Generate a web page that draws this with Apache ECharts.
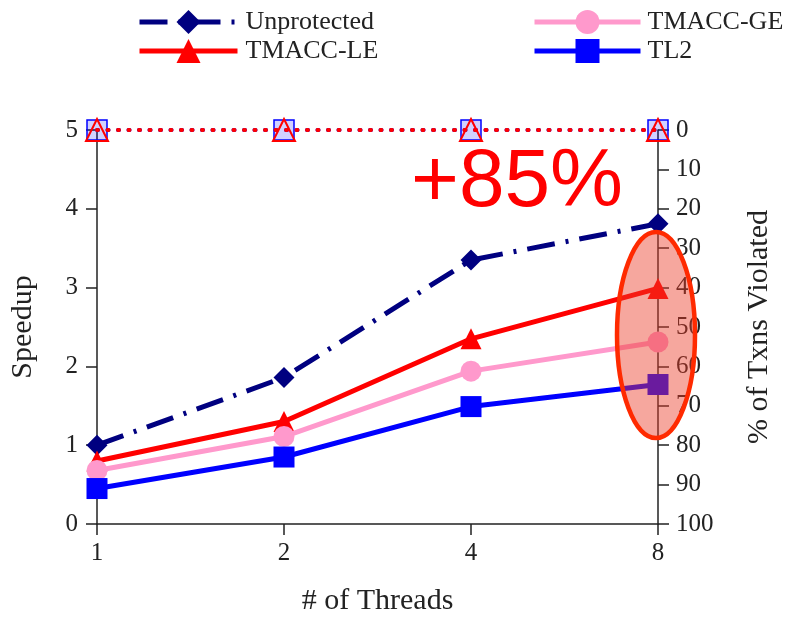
<!DOCTYPE html>
<html>
<head>
<meta charset="utf-8">
<script src="https://cdn.jsdelivr.net/npm/echarts@6/dist/echarts.min.js"></script>
<style>html,body{margin:0;padding:0;background:#fff}#c{width:790px;height:621px}</style>
</head>
<body>
<div id="c"></div>
<script>
const threads = ['1', '2', '4', '8'];
const unprotected = [1.00, 1.86, 3.35, 3.81];
const tmaccLE = [0.80, 1.30, 2.35, 2.99];
const tmaccGE = [0.68, 1.11, 1.94, 2.31];
const tl2 = [0.45, 0.85, 1.49, 1.77];
const violatedLE = [0, 0, 0, 0];
const violatedTL2 = [0, 0, 0, 0];
const speedupTicks = [0, 1, 2, 3, 4, 5];
const violatedTicks = [0, 10, 20, 30, 40, 50, 60, 70, 80, 90, 100];

const serif = '"Liberation Serif", "Times New Roman", serif';
const axisColor = '#222';

const chart = echarts.init(document.getElementById('c'), null, {renderer: 'canvas'});

const axisCommon = {
  axisLine: {show: true, lineStyle: {color: axisColor, width: 1.5}},
  axisTick: {show: true, inside: false, length: 11, lineStyle: {color: axisColor, width: 1.5}},
  splitLine: {show: false},
  axisLabel: {color: axisColor, fontFamily: serif, fontSize: 25},
  nameTextStyle: {color: axisColor, fontFamily: serif, fontSize: 30}
};

chart.setOption({
  animation: false,
  backgroundColor: '#fff',
  grid: {left: 97, right: 132, top: 130, bottom: 95, containLabel: false},
  legend: [
    {
      data: ['Unprotected', 'TMACC-LE'],
      orient: 'vertical', left: 132, top: 4,
      itemWidth: 98, itemHeight: 30, itemGap: 3,
      lineStyle: {width: 5},
      textStyle: {color: axisColor, fontFamily: serif, fontSize: 26, padding: [0, 0, 0, 3]}
    },
    {
      data: ['TMACC-GE', 'TL2'],
      orient: 'vertical', left: 527, top: 4,
      itemWidth: 106, itemHeight: 30, itemGap: 3,
      lineStyle: {width: 5},
      textStyle: {color: axisColor, fontFamily: serif, fontSize: 26, padding: [0, 0, 0, 2]}
    }
  ],
  xAxis: Object.assign({}, axisCommon, {
    type: 'category', data: threads, boundaryGap: false,
    name: '# of Threads', nameLocation: 'middle', nameGap: 62,
    axisTick: Object.assign({}, axisCommon.axisTick, {alignWithLabel: true}),
    axisLabel: Object.assign({}, axisCommon.axisLabel, {margin: 17})
  }),
  yAxis: [
    Object.assign({}, axisCommon, {
      type: 'value', min: speedupTicks[0], max: speedupTicks[speedupTicks.length - 1], interval: 1,
      name: 'Speedup', nameLocation: 'middle', nameGap: 59,
      axisLabel: Object.assign({}, axisCommon.axisLabel, {margin: 19})
    }),
    Object.assign({}, axisCommon, {
      type: 'value', position: 'right', inverse: true,
      min: violatedTicks[0], max: violatedTicks[violatedTicks.length - 1], interval: 10,
      name: '% of Txns Violated', nameLocation: 'middle', nameGap: 86, nameRotate: 90,
      axisLabel: Object.assign({}, axisCommon.axisLabel, {margin: 18})
    })
  ],
  series: [
    {
      name: 'Unprotected', type: 'line', data: unprotected,
      symbol: 'diamond', symbolSize: 21, showSymbol: true,
      itemStyle: {color: '#000080'},
      lineStyle: {color: '#000080', width: 5, type: [28, 11, 3, 11]},
      z: 3
    },
    {
      name: 'TMACC-LE', type: 'line', data: tmaccLE,
      symbol: 'triangle', symbolSize: 21, showSymbol: true,
      itemStyle: {color: '#ff0000'},
      lineStyle: {color: '#ff0000', width: 5},
      z: 4
    },
    {
      name: 'TMACC-GE', type: 'line', data: tmaccGE,
      symbol: 'circle', symbolSize: 21, showSymbol: true,
      itemStyle: {color: '#ff99cc'},
      lineStyle: {color: '#ff99cc', width: 5},
      z: 5
    },
    {
      name: 'TL2', type: 'line', data: tl2,
      symbol: 'rect', symbolSize: 21, showSymbol: true,
      itemStyle: {color: '#0000ff'},
      lineStyle: {color: '#0000ff', width: 5},
      z: 6
    },
    {
      name: 'TL2 violated', type: 'line', yAxisIndex: 1, data: violatedTL2,
      symbol: 'rect', symbolSize: 20, showSymbol: true,
      itemStyle: {color: 'rgba(0,0,255,0.18)', borderColor: '#0000ff', borderWidth: 1.5},
      lineStyle: {color: '#0000ff', width: 4, type: [1, 9.5], cap: 'round'},
      z: 7
    },
    {
      name: 'TMACC-LE violated', type: 'line', yAxisIndex: 1, data: violatedLE,
      symbol: 'triangle', symbolSize: 22, showSymbol: true,
      itemStyle: {color: 'rgba(255,255,255,0)', borderColor: '#ff0000', borderWidth: 2},
      lineStyle: {color: '#ff0000', width: 4, type: [1, 9.5], cap: 'round'},
      z: 8
    }
  ],
  graphic: [
    {
      type: 'text', z: 100,
      style: {
        text: '+85%', x: 517, y: 183, align: 'center', verticalAlign: 'middle',
        fill: '#ff0000', font: '82px "Liberation Sans", Arial, sans-serif'
      }
    },
    {
      type: 'ellipse', z: 100,
      shape: {cx: 656, cy: 335, rx: 39, ry: 103},
      style: {fill: 'rgba(235,60,40,0.45)', stroke: '#ff2a00', lineWidth: 4.5}
    }
  ]
});
</script>
</body>
</html>
